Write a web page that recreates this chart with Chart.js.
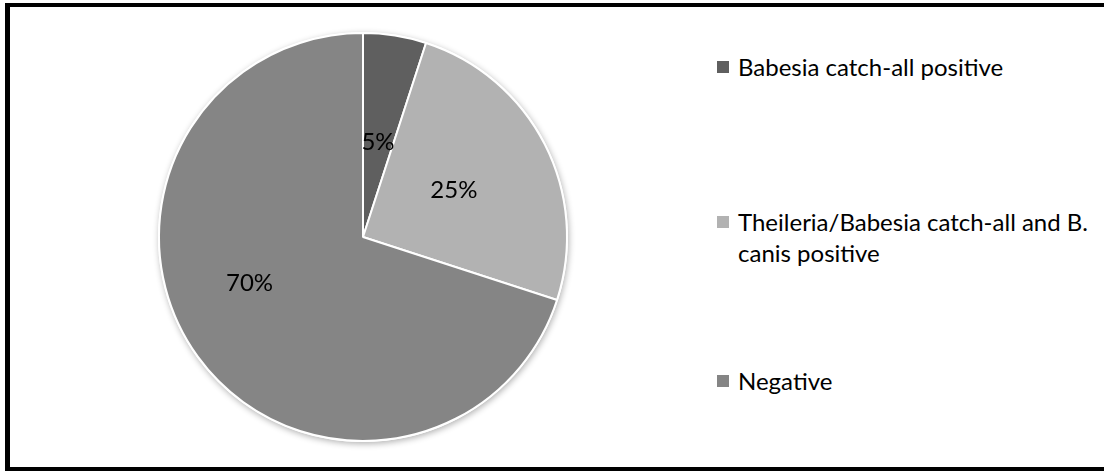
<!DOCTYPE html>
<html>
<head>
<meta charset="utf-8">
<script src="https://cdn.jsdelivr.net/npm/chart.js@4"></script>
<style>
  html, body { margin: 0; padding: 0; background: #fff; overflow: hidden; }
  #page { position: relative; width: 1104px; height: 471px; overflow: hidden; font-family: Lato, "Open Sans", sans-serif; }
  #frame { position: absolute; left: 5px; top: 3px; width: 1150px; height: 460px; border: 4px solid #000; border-left-width: 5px; }
  #wrap { position: absolute; left: 143px; top: 17px; width: 440px; height: 440px; }
  #legend { position: absolute; left: 717px; top: 0; width: 387px; }
  .item { position: absolute; left: 0; width: 387px; font-size: 24px; line-height: 31px; color: #000; }
  .box { position: absolute; left: 0; top: 10px; width: 12px; height: 12px; }
  .txt { margin-left: 21px; width: 362px; }
</style>
</head>
<body>
<div id="page">
<div id="frame"></div>
<div id="wrap"><canvas id="myChart" width="440" height="440"></canvas></div>
<div id="legend"></div>
</div>
<script>
const categories = ["Babesia catch-all positive", "Theileria/Babesia catch-all and B. canis positive", "Negative"];
const percentages = [5, 25, 70];
const sliceColors = ["#5f5f5f", "#b2b2b2", "#858585"];

// legend rows, top of each row
const legendTops = [51, 206, 365];

const legend = document.getElementById("legend");
for (let i = 0; i < categories.length; i++) {
  const item = document.createElement("div");
  item.className = "item";
  item.style.top = legendTops[i] + "px";
  item.innerHTML = '<span class="box" style="background:' + sliceColors[i] + '"></span><div class="txt">' + categories[i] + "</div>";
  legend.appendChild(item);
}

// white disc with a soft shadow under the slices
const pieShadow = {
  id: "pieShadow",
  beforeDatasetsDraw(chart) {
    const arc = chart.getDatasetMeta(0).data[0];
    const ctx = chart.ctx;
    ctx.save();
    ctx.shadowColor = "rgba(0,0,0,0.3)";
    ctx.shadowBlur = 6;
    ctx.shadowOffsetX = 1;
    ctx.shadowOffsetY = 2;
    ctx.fillStyle = "#fff";
    ctx.beginPath();
    ctx.arc(arc.x, arc.y, arc.outerRadius + 1, 0, Math.PI * 2);
    ctx.fill();
    ctx.restore();
  }
};

// percentage labels inside each slice (radius fraction, angle nudge in degrees)
const labelFrac = [0.47, 0.5, 0.6];
const labelTurn = [0, 0, 14];
const pieLabels = {
  id: "pieLabels",
  afterDatasetsDraw(chart) {
    const ctx = chart.ctx;
    const arcs = chart.getDatasetMeta(0).data;
    ctx.save();
    ctx.font = "24px Lato";
    ctx.fillStyle = "#000";
    ctx.textAlign = "center";
    ctx.textBaseline = "middle";
    arcs.forEach((arc, i) => {
      const mid = (arc.startAngle + arc.endAngle) / 2 + labelTurn[i] * Math.PI / 180;
      const r = arc.outerRadius * labelFrac[i];
      ctx.fillText(percentages[i] + "%", arc.x + Math.cos(mid) * r, arc.y + Math.sin(mid) * r);
    });
    ctx.restore();
  }
};

const ctx = document.getElementById("myChart");
new Chart(ctx, {
  type: "pie",
  data: {
    labels: categories,
    datasets: [{
      data: percentages,
      backgroundColor: sliceColors,
      borderColor: "#fff",
      borderWidth: 2
    }]
  },
  options: {
    responsive: false,
    animation: false,
    layout: { padding: 15 },
    plugins: {
      legend: { display: false },
      tooltip: { enabled: false }
    }
  },
  plugins: [pieShadow, pieLabels]
});
</script>
</body>
</html>
